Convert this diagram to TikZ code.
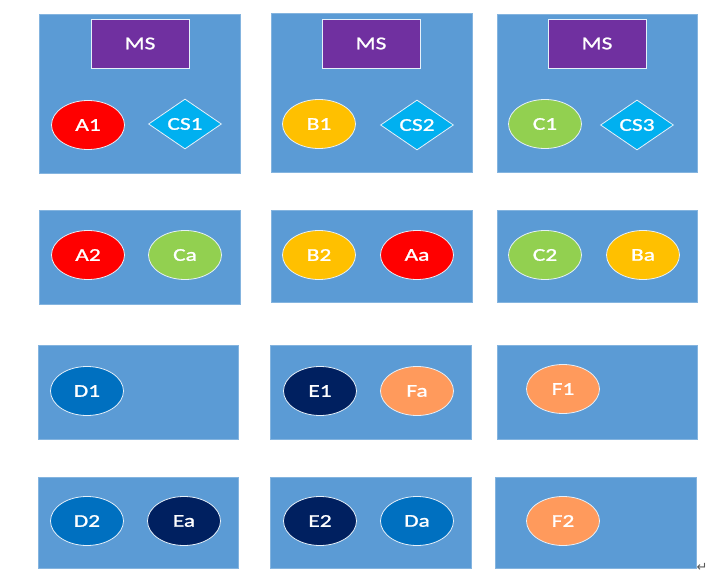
\documentclass[tikz,border=0pt]{standalone}
\usepackage{fontspec}
\setmainfont{Carlito}[FakeStretch=1.3, FakeBold=1.2]
\newfontfamily\marksfont{DejaVu Sans}
\usetikzlibrary{shapes.geometric}
\definecolor{panelblue}{HTML}{5B9BD5}
\definecolor{msviolet}{HTML}{7030A0}
\definecolor{tokred}{HTML}{FF0000}
\definecolor{tokcyan}{HTML}{00B0F0}
\definecolor{tokyellow}{HTML}{FFC000}
\definecolor{tokgreen}{HTML}{92D050}
\definecolor{tokblue}{HTML}{0070C0}
\definecolor{toknavy}{HTML}{002060}
\definecolor{tokorange}{HTML}{FF9A5C}

\tikzset{
  panel/.style={fill=panelblue, draw=panelblue!75!white, line width=0.6pt},
  msbox/.style={draw=white!85!panelblue, fill=msviolet, line width=0.8pt,
    minimum width=98pt, minimum height=49pt, inner sep=0pt, text=white,
    font=\fontsize{18}{21}\selectfont},
  token/.style={ellipse, draw=white!85!panelblue, line width=0.8pt,
    minimum width=73pt, minimum height=49pt, inner sep=0pt, text=white,
    font=\fontsize{18}{21}\selectfont},
  gate/.style={diamond, draw=white!85!panelblue, fill=tokcyan, line width=0.8pt,
    minimum width=73pt, minimum height=50pt, inner sep=0pt, text=white,
    font=\fontsize{18}{21}\selectfont}
}

\begin{document}
\begin{tikzpicture}[x=1pt, y=-1pt]
  \useasboundingbox (0,0) rectangle (726,583);
  % panels, row by row
  \fill[white] (0,0) rectangle (726,583);
  \draw[panel] (39,14) rectangle (240,173);
  \draw[panel] (271,13) rectangle (472,172);
  \draw[panel] (497,14) rectangle (697,172);
  \draw[panel] (39,210) rectangle (240,304);
  \draw[panel] (271,210) rectangle (472,302);
  \draw[panel] (497,210) rectangle (697,302);
  \draw[panel] (38,345) rectangle (238,439);
  \draw[panel] (270,345) rectangle (471,439);
  \draw[panel] (497,345) rectangle (697,439);
  \draw[panel] (38,477) rectangle (238,568);
  \draw[panel] (270,477) rectangle (471,568);
  \draw[panel] (495,477) rectangle (696,568);

  % first row
  \node[msbox] (ms1) at (140,43.5) {MS};
  \node[msbox] (ms2) at (371,43.5) {MS};
  \node[msbox] (ms3) at (597,43.5) {MS};
  \node[token, fill=tokred] (a1) at (88,125) {A1};
  \node[gate] (cs1) at (185,124) {CS1};
  \node[token, fill=tokyellow] (b1) at (319,124) {B1};
  \node[gate] (cs2) at (417,125) {CS2};
  \node[token, fill=tokgreen] (c1) at (545,124) {C1};
  \node[gate] (cs3) at (637,125) {CS3};

  % second row
  \node[token, fill=tokred] (a2) at (88,255) {A2};
  \node[token, fill=tokgreen] (ca) at (185,255) {Ca};
  \node[token, fill=tokyellow] (b2) at (319,255) {B2};
  \node[token, fill=tokred] (aa) at (417,255) {Aa};
  \node[token, fill=tokgreen] (c2) at (545,255) {C2};
  \node[token, fill=tokyellow] (ba) at (643,255) {Ba};

  % third row
  \node[token, fill=tokblue] (d1) at (87,391) {D1};
  \node[token, fill=toknavy] (e1) at (320,391) {E1};
  \node[token, fill=tokorange] (fa) at (417,391) {Fa};
  \node[token, fill=tokorange] (f1) at (563,389) {F1};

  % fourth row
  \node[token, fill=tokblue] (d2) at (87,521) {D2};
  \node[token, fill=toknavy] (ea) at (184,521) {Ea};
  \node[token, fill=toknavy] (e2) at (320,521) {E2};
  \node[token, fill=tokblue] (da) at (417,521) {Da};
  \node[token, fill=tokorange] (f2) at (563,521) {F2};

  \node[text=gray!70!black, font=\marksfont\fontsize{13}{14}\selectfont, inner sep=0pt] (pmark) at (702,567) {↵};
\end{tikzpicture}
\end{document}
